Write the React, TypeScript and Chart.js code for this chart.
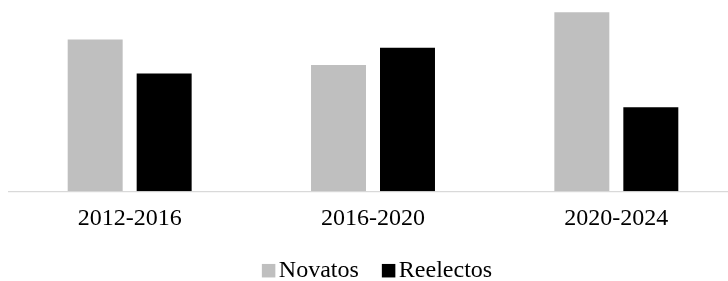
import React, { useEffect, useRef } from "react";
import { Chart, registerables } from "chart.js";

Chart.register(...registerables);

const categories = ["2012-2016", "2016-2020", "2020-2024"];
const novatos = [58.0, 48.2, 68.4];
const reelectos = [45.0, 54.8, 32.1];
const seriesLabels = ["Novatos", "Reelectos"];
const seriesColors = ["#bfbfbf", "#000000"];

const FONT = '"Liberation Serif", "Times New Roman", serif';

const legendPlugin = {
  id: "customLegend",
  afterDraw(chart: any) {
    const ctx = chart.ctx as CanvasRenderingContext2D;
    ctx.save();
    ctx.font = `24px ${FONT}`;
    ctx.textBaseline = "middle";
    ctx.textAlign = "left";
    const box = 13.5;
    const gap = 3.5;
    const spacing = 23;
    const items = chart.data.datasets.map((d: any) => ({
      label: d.label as string,
      color: d.backgroundColor as string,
      w: ctx.measureText(d.label).width,
    }));
    const total =
      items.reduce((s: number, it: any) => s + box + gap + it.w, 0) +
      spacing * (items.length - 1);
    let x = chart.width / 2 + 4 - total / 2;
    const cy = 262.7;
    for (const it of items) {
      ctx.fillStyle = it.color;
      ctx.fillRect(x, cy - box / 2, box, box);
      ctx.fillStyle = "#000000";
      ctx.fillText(it.label, x + box + gap, cy);
      x += box + gap + it.w + spacing;
    }
    ctx.restore();
  },
};

export default function App() {
  const ref = useRef<HTMLCanvasElement | null>(null);
  useEffect(() => {
    if (!ref.current) return;
    const chart = new Chart(ref.current, {
      type: "bar",
      data: {
        labels: categories,
        datasets: [
          {
            label: seriesLabels[0],
            data: novatos,
            backgroundColor: seriesColors[0],
            categoryPercentage: 0.567,
            barPercentage: 0.797,
          },
          {
            label: seriesLabels[1],
            data: reelectos,
            backgroundColor: seriesColors[1],
            categoryPercentage: 0.567,
            barPercentage: 0.797,
          },
        ],
      },
      options: {
        responsive: false,
        animation: false,
        layout: { padding: { top: 0, left: 0, right: 0, bottom: 35 } },
        plugins: {
          legend: { display: false },
          tooltip: { enabled: false },
        },
        scales: {
          x: {
            grid: { display: false, drawTicks: false },
            border: { display: true, color: "#d9d9d9", width: 1.3 },
            ticks: {
              color: "#000000",
              font: { family: FONT, size: 24 },
              padding: 13,
              maxRotation: 0,
            },
          },
          y: {
            display: false,
            min: 0,
            max: 70,
          },
        },
      },
      plugins: [legendPlugin],
    });
    return () => chart.destroy();
  }, []);
  return (
    <div
      style={{
        position: "absolute",
        left: 8,
        top: 8,
        width: 720,
        height: 273,
        overflow: "hidden",
        background: "#ffffff",
      }}
    >
      <canvas ref={ref} width={730} height={273} style={{ display: "block" }} />
    </div>
  );
}
